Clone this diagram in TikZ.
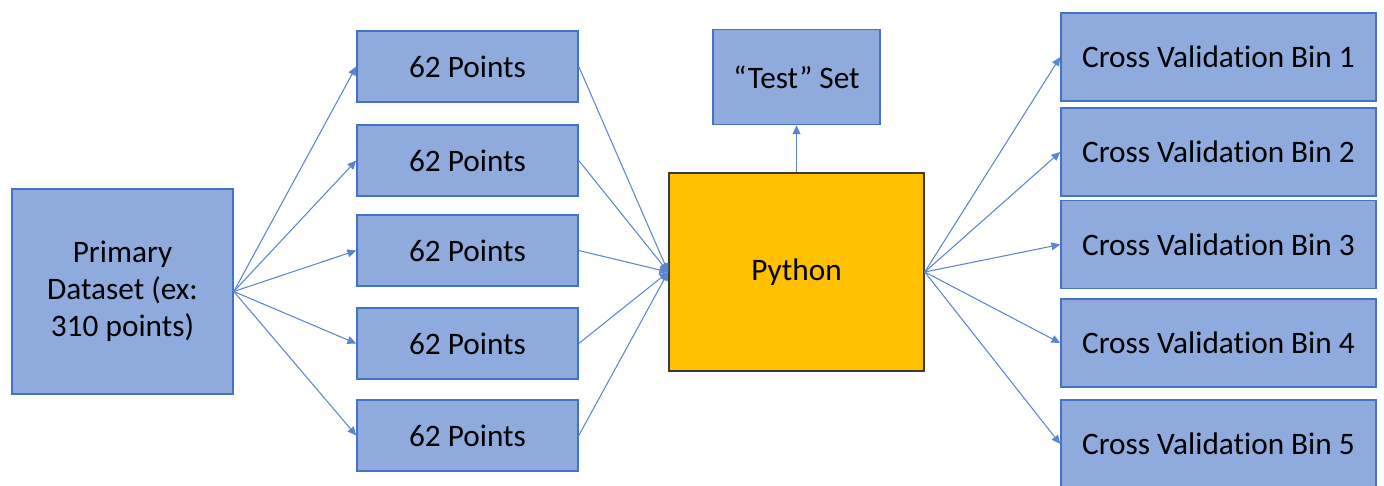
\documentclass[tikz,border=0pt]{standalone}
\usepackage{fontspec}
\setmainfont{Carlito}[Ligatures=NoCommon]
\usetikzlibrary{arrows.meta}
\definecolor{boxfill}{HTML}{8FAADC}
\definecolor{boxline}{HTML}{4472C4}
\definecolor{linkline}{HTML}{5B85D0}
\definecolor{pyfill}{HTML}{FFC000}
\definecolor{pyline}{HTML}{3A3A3A}
\begin{document}
\begin{tikzpicture}[x=0.02cm, y=-0.02cm,
		font=\fontsize{17.8}{21}\selectfont,
		>={Triangle[length=5pt,width=4.5pt]},
		bluebox/.style={draw=boxline, fill=boxfill, line width=0.9pt, inner sep=0pt},
		link/.style={color=linkline, line width=0.6pt}]
			\clip (0,0) rectangle (1384,485);
			\node	(data) at (122.5,291.5) [bluebox, minimum width=4.42cm, minimum height=4.1cm, align=center] {Primary\\Dataset (ex:\\310 points)};
			\node	(p1) at (467.5,66.5) [bluebox, minimum width=4.42cm, minimum height=1.42cm] {62 Points};
			\node	(p2) at (467.5,160.5) [bluebox, minimum width=4.42cm, minimum height=1.42cm] {62 Points};
			\node	(p3) at (467.5,250.5) [bluebox, minimum width=4.42cm, minimum height=1.42cm] {62 Points};
			\node	(p4) at (467.5,343.5) [bluebox, minimum width=4.42cm, minimum height=1.42cm] {62 Points};
			\node	(p5) at (467.5,435.5) [bluebox, minimum width=4.42cm, minimum height=1.42cm] {62 Points};
			\node	(test) at (796.5,77) [bluebox, minimum width=3.34cm, minimum height=1.9cm] {``Test'' Set};
			\node	(py) at (796.5,272) [draw=pyline, fill=pyfill, line width=0.9pt, minimum width=5.1cm, minimum height=3.96cm] {Python};
			\node	(b1) at (1218.5,57) [bluebox, minimum width=6.3cm, minimum height=1.76cm] {Cross Validation Bin 1};
			\node	(b2) at (1218.5,152) [bluebox, minimum width=6.3cm, minimum height=1.76cm] {Cross Validation Bin 2};
			\node	(b3) at (1218.5,244.5) [bluebox, minimum width=6.3cm, minimum height=1.76cm] {Cross Validation Bin 3};
			\node	(b4) at (1218.5,343) [bluebox, minimum width=6.3cm, minimum height=1.76cm] {Cross Validation Bin 4};
			\node	(b5) at (1218.5,444) [bluebox, minimum width=6.3cm, minimum height=1.76cm] {Cross Validation Bin 5};
			
			\draw[link]
			(data.east) edge[->] (p1.west)
			(data.east) edge[->] (p2.west)
			(data.east) edge[->] (p3.west)
			(data.east) edge[->] (p4.west)
			(data.east) edge[->] (p5.west)
			(p1.east) edge[->] (py.west)
			(p2.east) edge[->] (py.west)
			(p3.east) edge[->] (py.west)
			(p4.east) edge[->] (py.west)
			(p5.east) edge[->] (py.west)
			(py.north) edge[->] (test.south)
			(py.east) edge[->] (b1.west)
			(py.east) edge[->] (b2.west)
			(py.east) edge[->] (b3.west)
			(py.east) edge[->] (b4.west)
			(py.east) edge[->] (b5.west)
			;
		\end{tikzpicture}
\end{document}
